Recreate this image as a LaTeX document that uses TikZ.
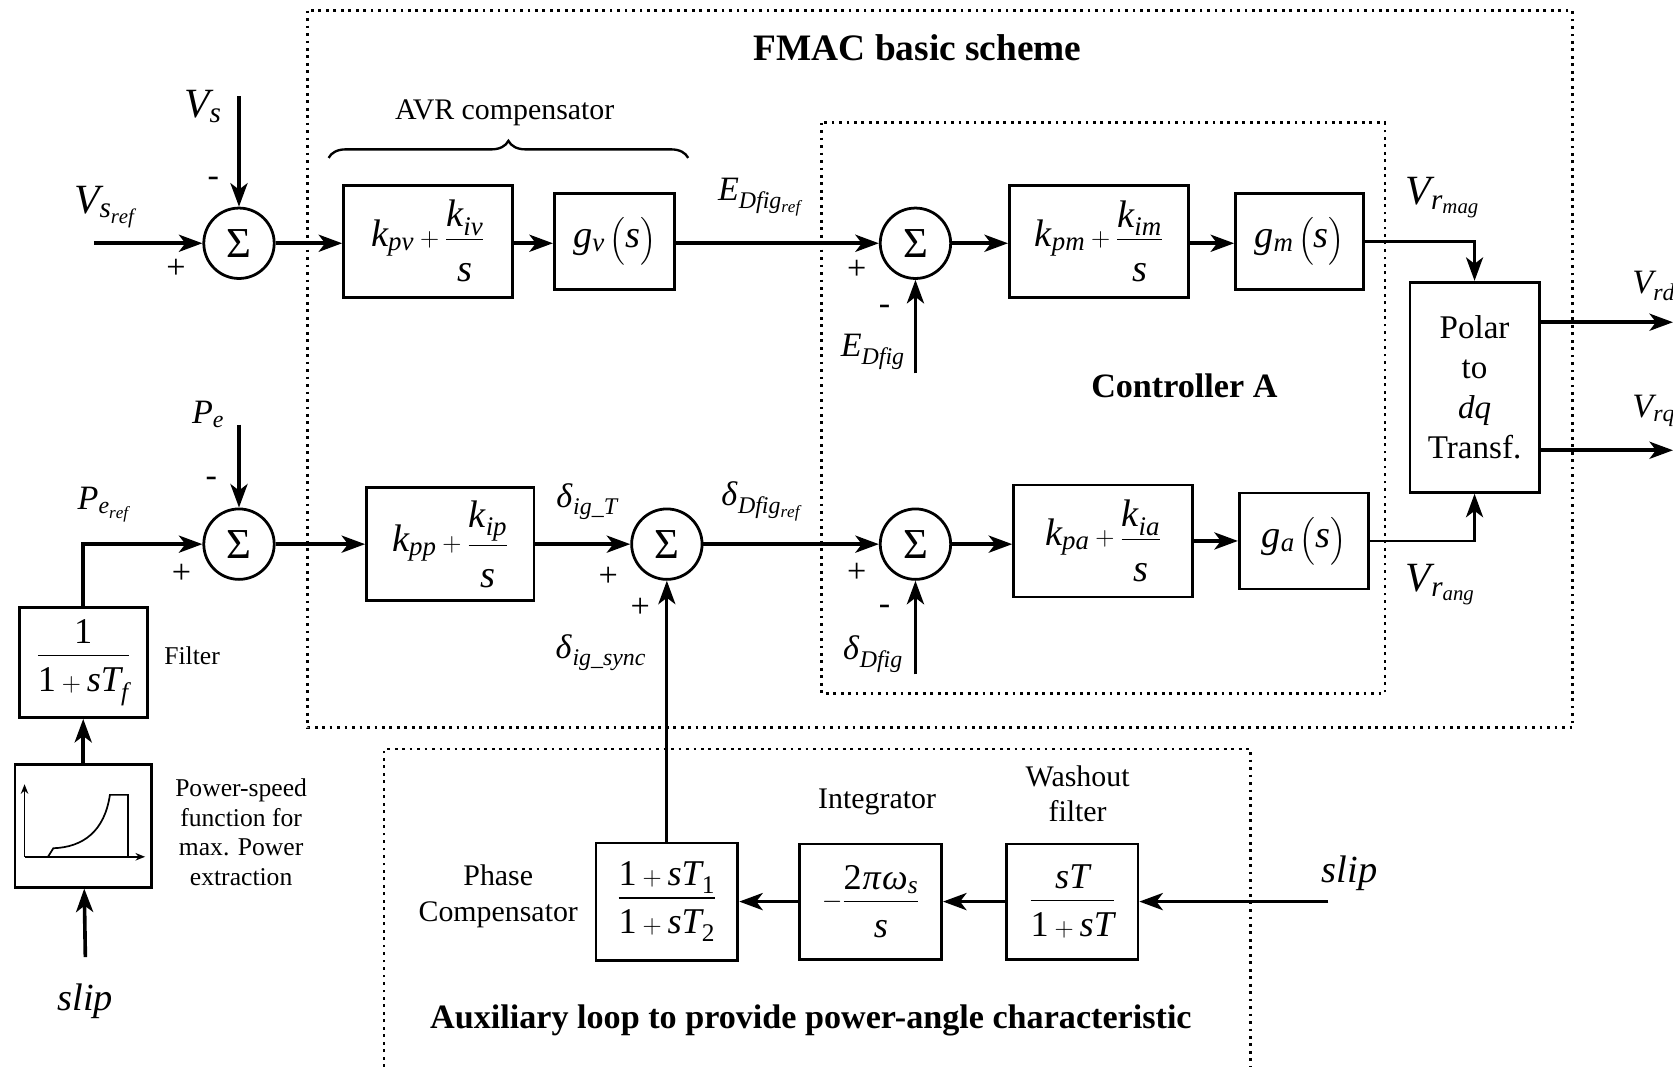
\documentclass[tikz,border=0pt]{standalone}
\usepackage{amsmath}
\usepackage{mathspec}
\setmainfont{Liberation Serif}
\setmathsfont(Digits,Latin,Greek){Liberation Serif}
\usetikzlibrary{arrows.meta,positioning,decorations.pathreplacing}
\newcommand{\sizept}[1]{\fontsize{#1}{#1}\selectfont}
% fractions with the looser spacing of the original
\newcommand{\pifrac}[2]{\dfrac{#1}{\rule{0pt}{36pt}#2}}
\newcommand{\tffrac}[2]{\dfrac{#1\rule[-8pt]{0pt}{0pt}}{\rule{0pt}{30pt}#2}}
\tikzset{
  blockbox/.style={draw,line width=2.6pt,inner sep=0pt,font=\sizept{36}},
  auxbox/.style={blockbox,font=\sizept{34}},
  sumnode/.style={draw,circle,line width=2.6pt,minimum size=66pt,inner sep=0pt,font=\sizept{40}},
  sigline/.style={line width=3.4pt},
  sigarrow/.style={sigline,-{Stealth[length=22pt,width=16pt,inset=6pt]}},
  dotframe/.style={line width=2.6pt,dash pattern=on 2.6pt off 4.4pt},
  signtext/.style={font=\sizept{32}},
  varlabel/.style={font=\sizept{39}},
  sublabel/.style={font=\sizept{32}},
  sliplabel/.style={font=\sizept{36}},
  smalltext/.style={font=\fontsize{24}{27.7}\selectfont,align=center},
  midtext/.style={font=\fontsize{28}{33}\selectfont,align=center},
  headtext/.style={font=\bfseries\sizept{35}},
}
\begin{document}
\begin{tikzpicture}[x=1pt,y=-1pt]
\useasboundingbox (0,0) rectangle (1568,1000);
% frames
\draw[dotframe] (288,10) rectangle (1474,682);
\draw[dotframe] (770,115) rectangle (1298,650);
\draw[dotframe] (360,1000) -- (360,702) -- (1172,702) -- (1172,1000);
\node[headtext] (fmac) at (860,45) {FMAC basic scheme};
\node[headtext,font=\bfseries\sizept{32}] (ctrlA) at (1110,362) {Controller A};
\node[headtext,font=\bfseries\sizept{32}] (auxtitle) at (760,956) {Auxiliary loop to provide power-angle characteristic};

% voltage loop
\node[sumnode] (s1) at (224,228) {Σ};
\node[blockbox,minimum width=158pt,minimum height=105pt] (b1) at (401,226) {$k_{pv}+\pifrac{k_{iv}}{s}$};
\node[blockbox,minimum width=113pt,minimum height=90pt] (b2) at (576,226) {$g_v\,\Big(s\Big)$};
\node[sumnode] (s2) at (858,228) {Σ};
\node[blockbox,minimum width=168pt,minimum height=105pt] (b3) at (1030,226) {$k_{pm}+\pifrac{k_{im}}{s}$};
\node[blockbox,minimum width=120pt,minimum height=90pt] (b4) at (1218,226) {$g_m\,\Big(s\Big)$};
\node[blockbox,minimum width=121pt,minimum height=197pt,font=\fontsize{31}{37.5}\selectfont,align=center] (polar) at (1382,363) {Polar\\to\\\textit{dq}\\Transf.};

% power loop
\node[sumnode] (s3) at (224,510) {Σ};
\node[blockbox,minimum width=157pt,minimum height=106pt] (b5) at (422,510) {$k_{pp}+\pifrac{k_{ip}}{s}$};
\node[sumnode] (s4) at (625,510) {Σ};
\node[sumnode] (s5) at (858,510) {Σ};
\node[blockbox,minimum width=168pt,minimum height=105pt] (b6) at (1034,507) {$k_{pa}+\pifrac{k_{ia}}{s}$};
\node[blockbox,minimum width=121pt,minimum height=90pt] (b7) at (1222,507) {$g_a\,\Big(s\Big)$};

% left column
\node[auxbox,minimum width=120pt,minimum height=103pt] (filt) at (78,621) {$\tffrac{1}{1+sT_f}$};
\node[blockbox,minimum width=128pt,minimum height=115pt] (psf) at (78,774) {};
\begin{scope}[shift={(psf.center)},line width=1.6pt]
  \draw[-{Stealth[length=9pt,width=7pt]}] (-55,29) -- (-55,-39);
  \draw[-{Stealth[length=9pt,width=7pt]}] (-55,29) -- (58,29);
  \draw (-33,29) -- (-28,21) .. controls (0,20) and (20,5) .. (25,-29) -- (42,-29) -- (42,29);
\end{scope}
\node[smalltext] (filtlbl) at (180,615) {Filter};
\node[smalltext] (psflbl) at (226,780) {Power-speed\\function for\\max. Power\\extraction};

% auxiliary loop
\node[auxbox,minimum width=133pt,minimum height=110pt] (phc) at (625,845) {$\tffrac{1+sT_1}{1+sT_2}$};
\node[auxbox,minimum width=133pt,minimum height=108pt] (integ) at (816,845) {$-\tffrac{2\pi\omega_s}{s}$};
\node[auxbox,minimum width=123pt,minimum height=108pt] (wash) at (1005,845) {$\tffrac{sT}{1+sT}$};
\node[midtext] (phclbl) at (467,840) {Phase\\Compensator};
\node[midtext] (integlbl) at (822,752) {Integrator};
\node[midtext] (washlbl) at (1010,744) {Washout\\filter};

% free ends
\coordinate (vsin) at (88,228);
\coordinate (vsfb) at (224,90);
\coordinate (efb) at (858,350);
\coordinate (pefb) at (224,398);
\coordinate (dfb) at (858,632);
\coordinate (slipin) at (80,897);
\coordinate (slipaux) at (1245,845);
\coordinate (vrd) at (1568,302);
\coordinate (vrq) at (1568,422);

% connectors
\draw[sigarrow] (vsin) -- (s1);
\draw[sigarrow] (vsfb) -- (s1);
\draw[sigarrow] (s1) -- (s1 -| b1.west);
\draw[sigarrow] (b1.east |- s1) -- (b2.west |- s1);
\draw[sigarrow] (b2.east |- s1) -- (s2);
\draw[sigarrow] (efb) -- (s2);
\draw[sigarrow] (s2) -- (s2 -| b3.west);
\draw[sigarrow] (b3.east |- s2) -- (b4.west |- s2);
\draw[sigarrow,line width=2.6pt] (b4.east) -| (polar.north);
\draw[sigarrow,line width=2.6pt] (b7.east) -| (polar.south);
\draw[sigarrow] (polar.east |- vrd) -- (vrd);
\draw[sigarrow] (polar.east |- vrq) -- (vrq);
\draw[sigarrow] (filt.north) |- (s3);
\draw[sigarrow] (pefb) -- (s3);
\draw[sigarrow] (s3) -- (b5);
\draw[sigarrow] (b5) -- (s4);
\draw[sigarrow,line width=2.8pt] (phc) -- (s4);
\draw[sigarrow] (s4) -- (s5);
\draw[sigarrow] (dfb) -- (s5);
\draw[sigarrow] (s5) -- (s5 -| b6.west);
\draw[sigarrow] (b6.east |- b7) -- (b7);
\draw[sigarrow] (psf) -- (filt);
\draw[sigarrow] (slipin) -- (psf);
\draw[sigarrow] (slipaux) -- (wash);
\draw[sigarrow] (wash) -- (integ);
\draw[sigarrow] (integ) -- (phc);

% brace
\coordinate (avrL) at (308,148);
\coordinate (avrR) at (645,148);
\draw[decorate,decoration={brace,amplitude=16pt},line width=2.2pt] (avrL) -- (avrR);
\node[midtext] (avrlbl) at (473,106) {AVR compensator};

% signal labels
\node[varlabel] (vsreflbl) at (98,194) {$V_{s_{ref}}$};
\node[varlabel] (vslbl) at (190,100) {$V_s$};
\node[sublabel] (ereflbl) at (712,185) {$E_{Dfig_{ref}}$};
\node[sublabel] (efblbl) at (818,330) {$E_{Dfig}$};
\node[varlabel] (vrmaglbl) at (1352,185) {$V_{r_{mag}}$};
\node[sublabel] (vrdlbl) at (1550,268) {$V_{rd}$};
\node[sublabel] (vrqlbl) at (1550,385) {$V_{rq}$};
\node[varlabel] (vranglbl) at (1350,548) {$V_{r_{ang}}$};
\node[sublabel] (pereflbl) at (97,473) {$P_{e_{ref}}$};
\node[sublabel] (pelbl) at (195,388) {$P_e$};
\node[sublabel] (dtlbl) at (550,470) {$\delta_{ig\_T}$};
\node[sublabel] (dsynclbl) at (563,612) {$\delta_{ig\_sync}$};
\node[sublabel] (dreflbl) at (713,470) {$\delta_{Dfig_{ref}}$};
\node[sublabel] (dfblbl) at (818,613) {$\delta_{Dfig}$};
\node[sliplabel] (slipalbl) at (80,938) {$slip$};
\node[sliplabel] (slipblbl) at (1265,818) {$slip$};

% signs
\node[signtext] (p1) at (165,252) {+};
\node[signtext] (m1) at (200,170) {-};
\node[signtext] (p2) at (803,253) {+};
\node[signtext] (m2) at (829,290) {-};
\node[signtext] (p3) at (170,538) {+};
\node[signtext] (m3) at (198,452) {-};
\node[signtext] (p4) at (570,541) {+};
\node[signtext] (p5) at (600,570) {+};
\node[signtext] (p6) at (803,537) {+};
\node[signtext] (m6) at (829,572) {-};
\end{tikzpicture}
\end{document}
